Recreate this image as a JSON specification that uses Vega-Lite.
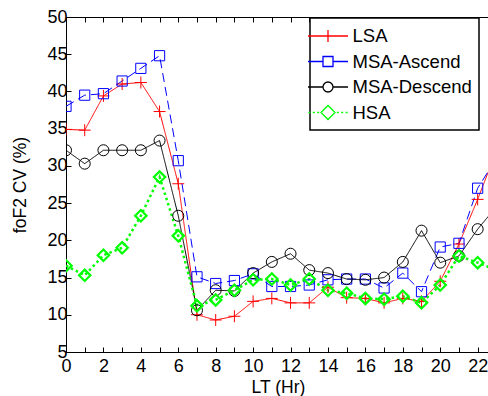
{
  "$schema": "https://vega.github.io/schema/vega-lite/v6.json",
  "width": 424,
  "height": 335,
  "autosize": "none",
  "padding": {"left": 66, "top": 17, "right": 0, "bottom": 44},
  "background": "white",
  "config": {
    "view": {"stroke": "black", "strokeWidth": 1},
    "font": "Liberation Sans",
    "axis": {
      "grid": false,
      "domainColor": "black",
      "tickColor": "black",
      "labelColor": "black",
      "titleColor": "black",
      "labelFont": "Liberation Sans",
      "titleFont": "Liberation Sans",
      "labelFontSize": 18,
      "titleFontSize": 17.5,
      "titleFontWeight": "normal"
    },
    "legend": {
      "orient": "none", "legendX": 244, "legendY": 1, "title": null,
      "symbolSize": 400, "symbolStrokeWidth": 1.3, "symbolOpacity": 1, "symbolFillColor": "transparent",
      "labelFont": "Liberation Sans", "labelFontSize": 18.5, "labelColor": "black", "labelOffset": 13.5, "labelLimit": 300,
      "strokeColor": "black", "strokeWidth": 1.5, "fillColor": "white", "padding": 7, "rowPadding": 4.5
    }
  },
  "data": {
    "values": [
      {"hr": 0, "series": "LSA", "cv": 34.9}, {"hr": 1, "series": "LSA", "cv": 34.8}, {"hr": 2, "series": "LSA", "cv": 39.4}, {"hr": 3, "series": "LSA", "cv": 41.0}, {"hr": 4, "series": "LSA", "cv": 41.2}, {"hr": 5, "series": "LSA", "cv": 37.3}, {"hr": 6, "series": "LSA", "cv": 27.6}, {"hr": 7, "series": "LSA", "cv": 10.0}, {"hr": 8, "series": "LSA", "cv": 9.3}, {"hr": 9, "series": "LSA", "cv": 9.8}, {"hr": 10, "series": "LSA", "cv": 11.8}, {"hr": 11, "series": "LSA", "cv": 12.2}, {"hr": 12, "series": "LSA", "cv": 11.6}, {"hr": 13, "series": "LSA", "cv": 11.6}, {"hr": 14, "series": "LSA", "cv": 13.7}, {"hr": 15, "series": "LSA", "cv": 12.3}, {"hr": 16, "series": "LSA", "cv": 12.2}, {"hr": 17, "series": "LSA", "cv": 11.6}, {"hr": 18, "series": "LSA", "cv": 12.2}, {"hr": 19, "series": "LSA", "cv": 11.8}, {"hr": 20, "series": "LSA", "cv": 14.5}, {"hr": 21, "series": "LSA", "cv": 19.5}, {"hr": 22, "series": "LSA", "cv": 25.5}, {"hr": 23, "series": "LSA", "cv": 32.0},
      {"hr": 0, "series": "MSA-Ascend", "cv": 38.0}, {"hr": 1, "series": "MSA-Ascend", "cv": 39.5}, {"hr": 2, "series": "MSA-Ascend", "cv": 39.7}, {"hr": 3, "series": "MSA-Ascend", "cv": 41.4}, {"hr": 4, "series": "MSA-Ascend", "cv": 43.1}, {"hr": 5, "series": "MSA-Ascend", "cv": 44.8}, {"hr": 6, "series": "MSA-Ascend", "cv": 30.7}, {"hr": 7, "series": "MSA-Ascend", "cv": 15.1}, {"hr": 8, "series": "MSA-Ascend", "cv": 14.2}, {"hr": 9, "series": "MSA-Ascend", "cv": 14.6}, {"hr": 10, "series": "MSA-Ascend", "cv": 15.5}, {"hr": 11, "series": "MSA-Ascend", "cv": 13.8}, {"hr": 12, "series": "MSA-Ascend", "cv": 13.8}, {"hr": 13, "series": "MSA-Ascend", "cv": 14.0}, {"hr": 14, "series": "MSA-Ascend", "cv": 14.7}, {"hr": 15, "series": "MSA-Ascend", "cv": 14.8}, {"hr": 16, "series": "MSA-Ascend", "cv": 14.8}, {"hr": 17, "series": "MSA-Ascend", "cv": 13.6}, {"hr": 18, "series": "MSA-Ascend", "cv": 15.6}, {"hr": 19, "series": "MSA-Ascend", "cv": 13.1}, {"hr": 20, "series": "MSA-Ascend", "cv": 19.1}, {"hr": 21, "series": "MSA-Ascend", "cv": 19.6}, {"hr": 22, "series": "MSA-Ascend", "cv": 27.0}, {"hr": 23, "series": "MSA-Ascend", "cv": 31.0},
      {"hr": 0, "series": "MSA-Descend", "cv": 32.1}, {"hr": 1, "series": "MSA-Descend", "cv": 30.3}, {"hr": 2, "series": "MSA-Descend", "cv": 32.1}, {"hr": 3, "series": "MSA-Descend", "cv": 32.1}, {"hr": 4, "series": "MSA-Descend", "cv": 32.1}, {"hr": 5, "series": "MSA-Descend", "cv": 33.4}, {"hr": 6, "series": "MSA-Descend", "cv": 23.3}, {"hr": 7, "series": "MSA-Descend", "cv": 10.6}, {"hr": 8, "series": "MSA-Descend", "cv": 13.3}, {"hr": 9, "series": "MSA-Descend", "cv": 13.2}, {"hr": 10, "series": "MSA-Descend", "cv": 15.6}, {"hr": 11, "series": "MSA-Descend", "cv": 17.1}, {"hr": 12, "series": "MSA-Descend", "cv": 18.2}, {"hr": 13, "series": "MSA-Descend", "cv": 16.0}, {"hr": 14, "series": "MSA-Descend", "cv": 15.6}, {"hr": 15, "series": "MSA-Descend", "cv": 14.8}, {"hr": 16, "series": "MSA-Descend", "cv": 14.7}, {"hr": 17, "series": "MSA-Descend", "cv": 15.0}, {"hr": 18, "series": "MSA-Descend", "cv": 17.1}, {"hr": 19, "series": "MSA-Descend", "cv": 21.3}, {"hr": 20, "series": "MSA-Descend", "cv": 17.0}, {"hr": 21, "series": "MSA-Descend", "cv": 17.9}, {"hr": 22, "series": "MSA-Descend", "cv": 21.5}, {"hr": 23, "series": "MSA-Descend", "cv": 24.5},
      {"hr": 0, "series": "HSA", "cv": 16.6}, {"hr": 1, "series": "HSA", "cv": 15.3}, {"hr": 2, "series": "HSA", "cv": 18.0}, {"hr": 3, "series": "HSA", "cv": 19.0}, {"hr": 4, "series": "HSA", "cv": 23.3}, {"hr": 5, "series": "HSA", "cv": 28.5}, {"hr": 6, "series": "HSA", "cv": 20.6}, {"hr": 7, "series": "HSA", "cv": 11.2}, {"hr": 8, "series": "HSA", "cv": 12.0}, {"hr": 9, "series": "HSA", "cv": 13.3}, {"hr": 10, "series": "HSA", "cv": 14.7}, {"hr": 11, "series": "HSA", "cv": 14.8}, {"hr": 12, "series": "HSA", "cv": 14.0}, {"hr": 13, "series": "HSA", "cv": 14.8}, {"hr": 14, "series": "HSA", "cv": 13.3}, {"hr": 15, "series": "HSA", "cv": 12.9}, {"hr": 16, "series": "HSA", "cv": 12.2}, {"hr": 17, "series": "HSA", "cv": 12.1}, {"hr": 18, "series": "HSA", "cv": 12.5}, {"hr": 19, "series": "HSA", "cv": 11.6}, {"hr": 20, "series": "HSA", "cv": 14.0}, {"hr": 21, "series": "HSA", "cv": 17.9}, {"hr": 22, "series": "HSA", "cv": 17.0}, {"hr": 23, "series": "HSA", "cv": 16.0}
    ]
  },
  "layer": [
    {
      "mark": {"type": "line", "clip": true, "strokeCap": "butt"},
      "encoding": {
        "x": {"field": "hr", "type": "quantitative", "scale": {"domain": [0, 22.66], "nice": false, "zero": false},
          "axis": {"orient": "bottom", "title": "LT (Hr)", "values": [0,1,2,3,4,5,6,7,8,9,10,11,12,13,14,15,16,17,18,19,20,21,22], "labelExpr": "datum.value % 2 === 0 ? datum.label : ''", "tickSize": -5, "labelPadding": 10, "titlePadding": 3, "labelFlush": false, "labelOverlap": false}},
        "y": {"field": "cv", "type": "quantitative", "scale": {"domain": [5, 50], "nice": false, "zero": false},
          "axis": {"orient": "left", "title": "foF2 CV (%)", "values": [5,10,15,20,25,30,35,40,45,50], "tickSize": -5, "labelPadding": 4, "titlePadding": 17, "labelFlush": false, "labelOverlap": false}},
        "color": {"field": "series", "type": "nominal", "scale": {"domain": ["LSA", "MSA-Ascend", "MSA-Descend", "HSA"], "range": ["#ff0000", "#0000ff", "#000000", "#00ff00"]}, "legend": null},
        "strokeDash": {"field": "series", "type": "nominal", "scale": {"domain": ["LSA", "MSA-Ascend", "MSA-Descend", "HSA"], "range": [[1, 0], [9, 5], [1, 0], [2.5, 3]]}, "legend": null},
        "strokeWidth": {"condition": {"test": "datum.series === 'HSA'", "value": 2.5}, "value": 1},
        "order": {"field": "hr", "type": "quantitative"}
      }
    },
    {
      "mark": {"type": "point", "clip": true, "filled": false, "size": 144, "opacity": 1},
      "encoding": {
        "x": {"field": "hr", "type": "quantitative",
          "axis": {"orient": "top", "title": null, "labels": false, "values": [0,1,2,3,4,5,6,7,8,9,10,11,12,13,14,15,16,17,18,19,20,21,22], "tickSize": -5}},
        "y": {"field": "cv", "type": "quantitative", "axis": null},
        "color": {"field": "series", "type": "nominal", "scale": {"domain": ["LSA", "MSA-Ascend", "MSA-Descend", "HSA"], "range": ["#ff0000", "#0000ff", "#000000", "#00ff00"]}, "legend": null},
        "shape": {"field": "series", "type": "nominal", "scale": {"domain": ["LSA", "MSA-Ascend", "MSA-Descend", "HSA"], "range": ["M-1,0H1M0,-1V1", "M-0.85,-0.85H0.85V0.85H-0.85Z", "M0.92,0C0.92,0.508 0.508,0.92 0,0.92C-0.508,0.92 -0.92,0.508 -0.92,0C-0.92,-0.508 -0.508,-0.92 0,-0.92C0.508,-0.92 0.92,-0.508 0.92,0Z", "M-0.95,0L0,-0.95L0.95,0L0,0.95Z"]}, "legend": null},
        "strokeWidth": {"condition": {"test": "datum.series === 'HSA'", "value": 2.2}, "value": 1}
      }
    },
    {
      "mark": {"type": "point", "filled": false, "size": 400, "opacity": 0},
      "encoding": {
        "x": {"field": "hr", "type": "quantitative", "axis": null},
        "y": {"field": "cv", "type": "quantitative", "axis": null},
        "color": {"field": "series", "type": "nominal", "scale": {"domain": ["LSA", "MSA-Ascend", "MSA-Descend", "HSA"], "range": ["#ff0000", "#0000ff", "#000000", "#00ff00"]}, "legend": {"title": null}},
        "shape": {"field": "series", "type": "nominal",
          "scale": {"domain": ["LSA", "MSA-Ascend", "MSA-Descend", "HSA"], "range": [
            "M-2,0H2M0,-0.6V0.6",
            "M-2,0H-0.5M0.5,0H2M-0.5,-0.5H0.5V0.5H-0.5Z",
            "M-2,0H-0.5M0.5,0H2M0.5,0C0.5,0.276 0.276,0.5 0,0.5C-0.276,0.5 -0.5,0.276 -0.5,0C-0.5,-0.276 -0.276,-0.5 0,-0.5C0.276,-0.5 0.5,-0.276 0.5,0Z",
            "M-1.96,0H-1.76M-1.52,0H-1.32M-1.08,0H-0.88M0.88,0H1.08M1.32,0H1.52M1.76,0H1.96M-0.7,0L0,-0.7L0.7,0L0,0.7Z"
          ]},
          "legend": {"title": null}
        }
      }
    }
  ],
  "resolve": {"axis": {"x": "independent", "y": "independent"}, "scale": {"shape": "independent", "color": "independent"}}
}
